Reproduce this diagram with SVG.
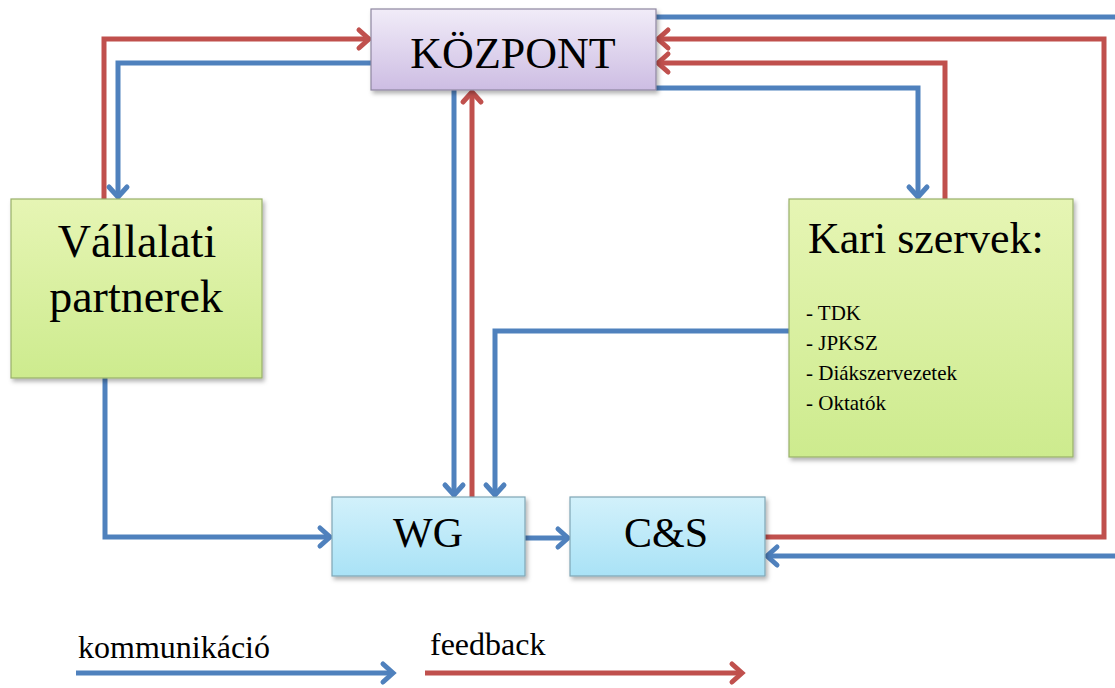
<svg xmlns="http://www.w3.org/2000/svg" width="1115" height="688" viewBox="0 0 1115 688">
  <style>
    .box { stroke-width: 1.2; }
    .comm { fill: none; stroke: #4F81BD; stroke-width: 5; stroke-linejoin: miter; }
    .feed { fill: none; stroke: #C0504D; stroke-width: 5; stroke-linejoin: miter; }
  </style>
  <defs>
    <linearGradient id="gPurple" x1="0" y1="0" x2="0" y2="1">
      <stop offset="0" stop-color="#F1ECF8"/>
      <stop offset="1" stop-color="#CDBDE3"/>
    </linearGradient>
    <linearGradient id="gGreen" x1="0" y1="0" x2="0" y2="1">
      <stop offset="0" stop-color="#E6F5B4"/>
      <stop offset="1" stop-color="#CDEB8E"/>
    </linearGradient>
    <linearGradient id="gBlue" x1="0" y1="0" x2="0" y2="1">
      <stop offset="0" stop-color="#D2F1FB"/>
      <stop offset="1" stop-color="#A9E2F6"/>
    </linearGradient>
    <filter id="shadow" x="-10%" y="-10%" width="125%" height="130%">
      <feDropShadow dx="2" dy="3" stdDeviation="2" flood-color="#000" flood-opacity="0.3"/>
    </filter>
    <marker id="aBlue" markerUnits="userSpaceOnUse" markerWidth="24" markerHeight="24" refX="13" refY="12" orient="auto" overflow="visible">
      <path d="M3,3 L13,12 L3,21" fill="none" stroke="#4F81BD" stroke-width="5" stroke-linecap="round"/>
    </marker>
    <marker id="aRed" markerUnits="userSpaceOnUse" markerWidth="24" markerHeight="24" refX="13" refY="12" orient="auto" overflow="visible">
      <path d="M3,3 L13,12 L3,21" fill="none" stroke="#C0504D" stroke-width="5" stroke-linecap="round"/>
    </marker>
  </defs>

  <rect width="1115" height="688" fill="#FFFFFF"/>

  <g id="connectors">
    <polyline class="comm" points="371,63 118,63 118,197" marker-end="url(#aBlue)"/>
    <polyline class="comm" points="454,90 454,495" marker-end="url(#aBlue)"/>
    <polyline class="comm" points="656,88 918,88 918,197" marker-end="url(#aBlue)"/>
    <polyline class="comm" points="656,17 1115,17"/>
    <polyline class="comm" points="1115,556 767,556" marker-end="url(#aBlue)"/>
    <polyline class="comm" points="105,376 105,537 330,537" marker-end="url(#aBlue)"/>
    <polyline class="comm" points="789,331 495,331 495,495" marker-end="url(#aBlue)"/>
    <polyline class="comm" points="525,538 568,538" marker-end="url(#aBlue)"/>
    <polyline class="feed" points="104,199 104,39 369,39" marker-end="url(#aRed)"/>
    <polyline class="feed" points="472,497 472,92" marker-end="url(#aRed)"/>
    <polyline class="feed" points="945,199 945,63 658,63" marker-end="url(#aRed)"/>
    <polyline class="feed" points="765,537 1104,537 1104,39 658,39" marker-end="url(#aRed)"/>
    <polyline class="comm" points="76,673 393,673" marker-end="url(#aBlue)"/>
    <polyline class="feed" points="425,673 742,673" marker-end="url(#aRed)"/>
  </g>

  <g id="kozpont" font-family="'Liberation Serif', 'DejaVu Serif', serif">
    <rect class="box" x="371" y="9" width="285" height="81" fill="url(#gPurple)" stroke="#8E86A0" filter="url(#shadow)"/>
    <text x="513" y="68" font-size="44" text-anchor="middle" fill="#000">KÖZPONT</text>
  </g>

  <g id="vallalati" font-family="'Liberation Serif', 'DejaVu Serif', serif">
    <rect class="box" x="11" y="199" width="251" height="179" fill="url(#gGreen)" stroke="#98B06A" filter="url(#shadow)"/>
    <text x="137" y="257" font-size="46" text-anchor="middle" fill="#000">Vállalati</text>
    <text x="136" y="312" font-size="46" text-anchor="middle" fill="#000">partnerek</text>
  </g>

  <g id="kari" font-family="'Liberation Serif', 'DejaVu Serif', serif">
    <rect class="box" x="789" y="199" width="284" height="258" fill="url(#gGreen)" stroke="#98B06A" filter="url(#shadow)"/>
    <text x="808" y="253" font-size="44" fill="#000">Kari szervek:</text>
    <text x="806" y="320" font-size="21" fill="#000">- TDK</text>
    <text x="806" y="350" font-size="21" fill="#000">- JPKSZ</text>
    <text x="806" y="380" font-size="21" fill="#000">- Diákszervezetek</text>
    <text x="806" y="410" font-size="21" fill="#000">- Oktatók</text>
  </g>

  <g id="wg" font-family="'Liberation Serif', 'DejaVu Serif', serif">
    <rect class="box" x="332" y="497" width="193" height="79" fill="url(#gBlue)" stroke="#7FA6B5" filter="url(#shadow)"/>
    <text x="428" y="547" font-size="42" text-anchor="middle" fill="#000">WG</text>
  </g>

  <g id="cs" font-family="'Liberation Serif', 'DejaVu Serif', serif">
    <rect class="box" x="570" y="497" width="195" height="79" fill="url(#gBlue)" stroke="#7FA6B5" filter="url(#shadow)"/>
    <text x="666" y="547" font-size="42" text-anchor="middle" fill="#000">C&amp;S</text>
  </g>

  <g id="legend" font-family="'Liberation Serif', 'DejaVu Serif', serif">
    <text x="78" y="658" font-size="32" fill="#000">kommunikáció</text>
    <text x="430" y="655" font-size="32" fill="#000">feedback</text>
  </g>
</svg>
